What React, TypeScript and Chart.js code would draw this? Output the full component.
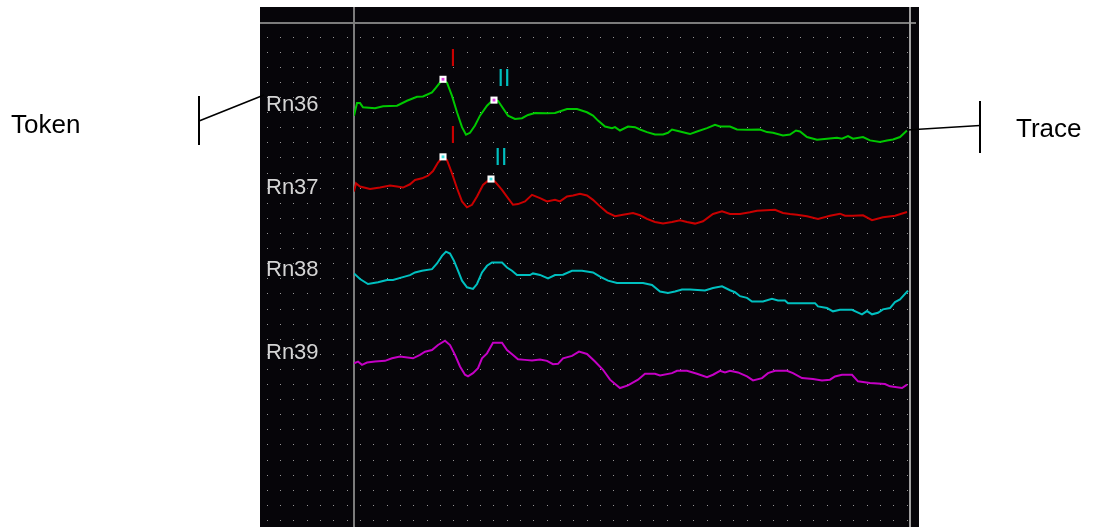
import React, { useEffect, useRef } from "react";
import { Chart, registerables } from "chart.js";

Chart.register(...registerables);

// ---- data (time in ms from trace start, amplitude in µV, positive up) ----
const channelNames = ["Rn36", "Rn37", "Rn38", "Rn39"];
const channelOffsets = [422, 338.7, 255.3, 172];
const channelColors = ["#00c800", "#c80000", "#00c0c0", "#c400c4"];

const rn36: [number, number][] = [
  [0, -11.7], [3, 1], [6, 1], [9, -3.3], [21, -4.3], [29, -2.3], [43, -1.7], [53, 3.3], [63, 7.3], [69, 7.7],
  [78, 11.7], [82, 16.7], [86, 21.7], [89, 24.3], [93, 21.7], [98, 8.3], [103, -8.3], [108, -23.3], [112, -31], [116, -29],
  [121, -21.7], [126, -11.7], [133, -1.7], [139, 4.3], [144, 3.3], [149, -4.3], [154, -11.7], [161, -15], [168, -14.3], [174, -11],
  [181, -9], [193, -9.3], [201, -9], [213, -5], [223, -5], [233, -8.3], [239, -11.7], [244, -16.7], [251, -22.7], [258, -24.3],
  [261, -23.3], [266, -26.7], [274, -22.7], [281, -23.3], [286, -25.7], [293, -28.3], [301, -30.7], [309, -30.7], [314, -29], [318, -25.7],
  [326, -27.7], [336, -30.3], [343, -27.7], [353, -24.3], [361, -21], [366, -22.7], [376, -22.7], [383, -25.7], [393, -26], [406, -25.7],
  [413, -28.3], [419, -29], [429, -31.7], [436, -30.7], [442, -26.7], [446, -27.7], [453, -33.3], [463, -36], [473, -35], [483, -34],
  [488, -35], [494, -32.3], [499, -35], [509, -33.3], [516, -36.7], [526, -38.3], [533, -36.7], [539, -35.7], [546, -33.3], [553, -26.7],
];

const rn37: [number, number][] = [
  [0, -5], [2, 3.3], [6, 0], [16, -2.4], [26, -1], [36, 1], [43, 0], [49, -1], [56, 2.3], [61, 6.6],
  [68, 8.3], [74, 11], [79, 15.6], [84, 24.3], [89, 30], [93, 26.6], [98, 13.3], [103, -1.7], [108, -15], [113, -21],
  [118, -18.4], [123, -10], [129, 1.6], [136, 7.6], [141, 5], [148, -3.4], [154, -11.7], [159, -18.4], [164, -17.7], [171, -15],
  [178, -8.4], [186, -11.7], [193, -15], [201, -13.4], [206, -15], [213, -10], [219, -9], [226, -7.4], [233, -9], [239, -13.4],
  [246, -20], [253, -26], [261, -30], [269, -28.4], [279, -26.7], [286, -29], [293, -32.7], [301, -35.7], [309, -37.4], [318, -35.7],
  [326, -34], [333, -35.7], [341, -37.4], [349, -35], [359, -27.7], [368, -25], [376, -27.7], [386, -27.7], [396, -26], [403, -24.4],
  [421, -23.4], [429, -26.7], [436, -27.7], [443, -28.4], [453, -30], [464, -32.7], [476, -29.4], [486, -27.4], [491, -29.4], [499, -29.4],
  [509, -29], [518, -34], [529, -31], [541, -29.4], [553, -25.7],
];

const rn38: [number, number][] = [
  [0, -4.3], [6, -10], [14, -15], [24, -13.3], [33, -11], [39, -11], [48, -8.3], [56, -6], [61, -3.3], [68, -1.6],
  [78, 0], [83, 5.7], [88, 13.4], [92, 17.7], [96, 15.7], [100, 8.4], [104, -1.6], [108, -11.6], [113, -18.3], [119, -20],
  [123, -15], [128, -3.3], [133, 3.4], [138, 6.7], [148, 6.7], [153, 1.7], [158, -1.6], [163, -6], [176, -6], [179, -4.3],
  [186, -5.8], [194, -9.3], [201, -6], [209, -5.6], [218, -1.6], [228, -1.6], [239, -3.3], [246, -7.6], [254, -11.6], [263, -14],
  [289, -14], [298, -16], [306, -22.6], [314, -24], [321, -22.6], [328, -20.6], [336, -20.6], [351, -21.6], [359, -19], [368, -17.3],
  [376, -21.3], [381, -23.3], [386, -27.3], [393, -29], [398, -32.6], [409, -32.6], [418, -30], [424, -31.6], [431, -31.6], [434, -34.3],
  [461, -34.3], [464, -37.6], [473, -39.3], [479, -42.6], [486, -41], [498, -41], [503, -43.3], [508, -45.6], [513, -42.3], [518, -45.6],
  [524, -44], [529, -40.6], [536, -39.3], [541, -33.3], [546, -30.6], [554, -21.6],
];

const rn39: [number, number][] = [
  [0, -11.7], [4, -10], [8, -13.3], [13, -11], [21, -10], [31, -9.3], [38, -6.7], [46, -5], [59, -6.7], [66, -3.3],
  [71, 0], [78, 1.7], [84, 6.7], [91, 11], [96, 6.7], [101, -3.3], [106, -15], [111, -23.3], [114, -25], [119, -21.7],
  [124, -16.7], [128, -6.7], [133, -1.7], [139, 9], [148, 9], [153, 1.7], [159, -3.3], [164, -7.7], [171, -8.3], [178, -9],
  [186, -8], [193, -9.3], [199, -12.7], [204, -12.3], [209, -6.7], [218, -4.3], [225, 0], [233, -2.3], [241, -10], [249, -18.3],
  [256, -28.3], [266, -36.7], [274, -34], [284, -28.3], [291, -22.3], [301, -22.3], [306, -24], [318, -21.7], [323, -19.3], [333, -19.3],
  [343, -22.3], [353, -25.7], [359, -23.3], [366, -19.3], [371, -21], [376, -19.3], [384, -21], [393, -25], [399, -29], [408, -26.7],
  [414, -21.7], [421, -19.3], [433, -19.3], [439, -21.7], [448, -26.7], [459, -27.7], [468, -29], [476, -28.3], [481, -25], [488, -23.3],
  [498, -23.3], [504, -30], [509, -30.7], [516, -31.7], [531, -32.7], [536, -35], [548, -36.7], [553, -33.3],
];

const channelTraces = [rn36, rn37, rn38, rn39];

// peak markers: [time, amplitude]
const peakLabels = ["I", "II"];
const rn36Peaks: [number, number][] = [[89, 25], [140, 4]];
const rn37Peaks: [number, number][] = [[89, 30], [137, 7.6]];
const peakLabelColors = ["#c80000", "#00c0c0"];
const rn36PeakCenter = "#e040e0";
const rn37PeakCenter = "#40e0e0";

const timeRange = [0, 556];
const ampRange = [0, 520];

const FONT = '"Liberation Sans", Arial, sans-serif';

const decorPlugin = {
  id: "decor",
  beforeDraw(chart: any) {
    const ctx = chart.ctx as CanvasRenderingContext2D;
    ctx.save();
    ctx.fillStyle = "#ffffff";
    ctx.fillRect(0, 0, chart.width, chart.height);
    // black panel
    ctx.fillStyle = "#060509";
    ctx.fillRect(260, 7, 659, 520);
    // dotted grid
    ctx.fillStyle = "#969696";
    for (let x = 266.67; x < 917; x += 13.333) {
      for (let y = 6.5; y < 527; y += 15.1) {
        if (y < 7) continue;
        ctx.fillRect(Math.round(x), Math.round(y), 1, 1);
      }
    }
    // gray frame lines
    ctx.fillStyle = "#7c7c7c";
    ctx.fillRect(260, 22, 656, 2);
    ctx.fillRect(353, 7, 2, 520);
    ctx.fillStyle = "#a0a0a0";
    ctx.fillRect(909, 7, 2, 520);
    ctx.restore();
  },
  afterDraw(chart: any) {
    const ctx = chart.ctx as CanvasRenderingContext2D;
    const xs = chart.scales.x;
    const ys = chart.scales.y;
    ctx.save();
    // channel tokens
    ctx.fillStyle = "#d4d4d4";
    ctx.font = `22px ${FONT}`;
    ctx.textBaseline = "middle";
    ctx.textAlign = "left";
    channelNames.forEach((n, i) => {
      ctx.fillText(n, 266, ys.getPixelForValue(channelOffsets[i]) + 1);
    });
    // peak labels
    ctx.font = `23px ${FONT}`;
    ctx.textAlign = "center";
    const drawPeakLabels = (peaks: [number, number][], off: number) => {
      peaks.forEach((p, i) => {
        const px = xs.getPixelForValue(p[0]);
        const py = ys.getPixelForValue(off + p[1]);
        ctx.fillStyle = peakLabelColors[i];
        ctx.fillText(peakLabels[i], px + 10, py - 20);
      });
    };
    drawPeakLabels(rn36Peaks, channelOffsets[0]);
    drawPeakLabels(rn37Peaks, channelOffsets[1]);

    // annotations
    ctx.fillStyle = "#000000";
    ctx.strokeStyle = "#000000";
    ctx.font = `26px ${FONT}`;
    ctx.textAlign = "left";
    ctx.textBaseline = "alphabetic";
    ctx.fillText("Token", 11, 133);
    ctx.fillText("Trace", 1016, 137);
    ctx.lineWidth = 2;
    ctx.beginPath();
    ctx.moveTo(199, 96);
    ctx.lineTo(199, 145);
    ctx.moveTo(980, 101);
    ctx.lineTo(980, 153);
    ctx.stroke();
    ctx.lineWidth = 1.6;
    ctx.beginPath();
    ctx.moveTo(199, 121);
    ctx.lineTo(264, 95);
    ctx.moveTo(907, 130);
    ctx.lineTo(980, 125.5);
    ctx.stroke();
    ctx.restore();
  },
};

function App() {
  const ref = useRef<HTMLCanvasElement | null>(null);
  useEffect(() => {
    if (!ref.current) return;
    const toXY = (pts: [number, number][], off: number) => pts.map(([t, a]) => ({ x: t, y: off + a }));
    const markerSets: any[] = [];
    [
      { peaks: rn36Peaks, off: channelOffsets[0], center: rn36PeakCenter },
      { peaks: rn37Peaks, off: channelOffsets[1], center: rn37PeakCenter },
    ].forEach((m) => {
      markerSets.push({
        label: "center",
        data: toXY(m.peaks, m.off),
        showLine: false,
        pointStyle: "rect",
        pointRadius: 2,
        pointBackgroundColor: m.center,
        pointBorderWidth: 0,
      });
    });
    [
      { peaks: rn36Peaks, off: channelOffsets[0] },
      { peaks: rn37Peaks, off: channelOffsets[1] },
    ].forEach((m) => {
      markerSets.push({
        label: "peak",
        data: toXY(m.peaks, m.off),
        showLine: false,
        pointStyle: "rect",
        pointRadius: 5,
        pointBackgroundColor: "#ffffff",
        pointBorderWidth: 0,
      });
    });
    const traceSets = channelTraces.map((tr, i) => ({
      label: channelNames[i],
      data: toXY(tr, channelOffsets[i]),
      borderColor: channelColors[i],
      borderWidth: 2,
      pointRadius: 0,
      tension: 0,
      fill: false,
    }));
    const chart = new Chart(ref.current, {
      type: "line",
      data: { datasets: [...markerSets, ...traceSets] },
      options: {
        animation: false,
        responsive: false,
        maintainAspectRatio: false,
        parsing: true,
        layout: { padding: { left: 354, right: 184, top: 7, bottom: 0 } },
        plugins: { legend: { display: false }, tooltip: { enabled: false } },
        scales: {
          x: { type: "linear", min: timeRange[0], max: timeRange[1], display: false },
          y: { type: "linear", min: ampRange[0], max: ampRange[1], display: false },
        },
      },
      plugins: [decorPlugin],
    });
    return () => chart.destroy();
  }, []);
  return (
    <div style={{ position: "fixed", left: 0, top: 0, width: 1094, height: 527 }}>
      <canvas ref={ref} width={1094} height={527} style={{ width: 1094, height: 527, display: "block" }} />
    </div>
  );
}

export default App;
